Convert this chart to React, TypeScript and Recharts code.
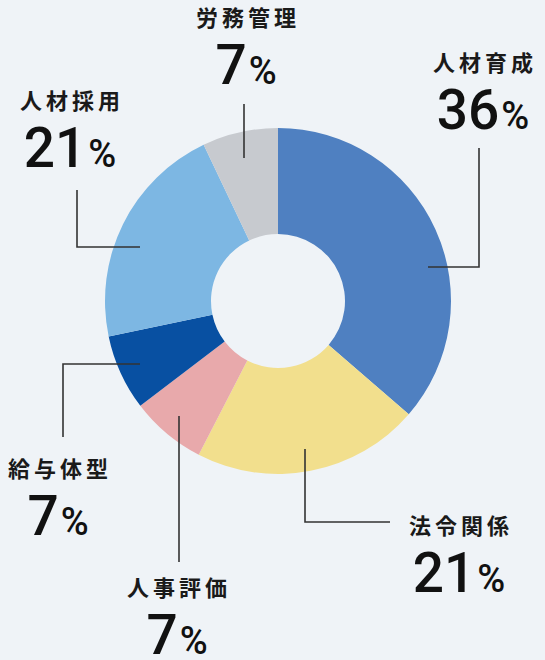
import React from "react";
import { PieChart, Pie, Cell } from "recharts";

// shares in %, clockwise from 12 o'clock
const categories = ["人材育成", "法令関係", "人事評価", "給与体型", "人材採用", "労務管理"];
const shares = [36, 21, 7, 7, 21, 7];
const COLORS = ["#4f80c1", "#f2df8d", "#e8a9ab", "#0850a2", "#7db7e3", "#c7cacf"];

// callout layout, relative to pie centre: leader polyline + text anchor
const CALLOUTS = [
  { line: [[150, -34], [201, -34], [201, -153]], tx: 207, ty: -230 },
  { line: [[27, 148], [27, 221], [112, 221]], tx: 183, ty: 233 },
  { line: [[-99, 115], [-99, 261]], tx: -99, ty: 295 },
  { line: [[-138, 63], [-215, 63], [-215, 136]], tx: -218, ty: 176 },
  { line: [[-138, -54], [-201, -54], [-201, -111]], tx: -206, ty: -192 },
  { line: [[-34, -143], [-34, -197]], tx: -30, ty: -275 },
];

const chartData = categories.map((name, i) => ({ name, value: shares[i] }));

if (typeof document !== "undefined") {
  document.body.style.margin = "0";
}

const renderCallout = (props: any) => {
  const { cx, cy, index } = props;
  const c = CALLOUTS[index];
  const pts = c.line.map(([x, y]) => `${cx + x},${cy + y}`).join(" ");
  const x = cx + c.tx;
  const y = cy + c.ty;
  return (
    <g key={`callout-${index}`}>
      <polyline points={pts} fill="none" stroke="#333" strokeWidth={1.6} />
      <text
        x={x}
        y={y}
        textAnchor="middle"
        fill="#1a1a1a"
        fontFamily="'Noto Sans CJK JP', 'Noto Sans', sans-serif"
        fontWeight={700}
        fontSize={22}
        letterSpacing={4}
      >
        {categories[index]}
      </text>
      <text
        x={x - 2}
        y={y + 58}
        textAnchor="middle"
        fill="#111"
        fontFamily="Roboto, sans-serif"
        fontWeight={500}
      >
        <tspan fontSize={55}>{shares[index]}</tspan>
        <tspan fontSize={38} dx={2}>%</tspan>
      </text>
    </g>
  );
};

export default function App() {
  return (
    <div style={{ width: 545, height: 660, background: "#eff3f7" }}>
      <PieChart width={545} height={660} margin={{ top: 0, right: 0, bottom: 0, left: 0 }}>
        <Pie
          data={chartData}
          dataKey="value"
          nameKey="name"
          cx={278}
          cy={301}
          innerRadius={67}
          outerRadius={173}
          startAngle={90}
          endAngle={-270}
          stroke="none"
          labelLine={false}
          label={renderCallout}
          isAnimationActive={false}
        >
          {chartData.map((entry, index) => (
            <Cell key={`cell-${index}`} fill={COLORS[index]} />
          ))}
        </Pie>
      </PieChart>
    </div>
  );
}
